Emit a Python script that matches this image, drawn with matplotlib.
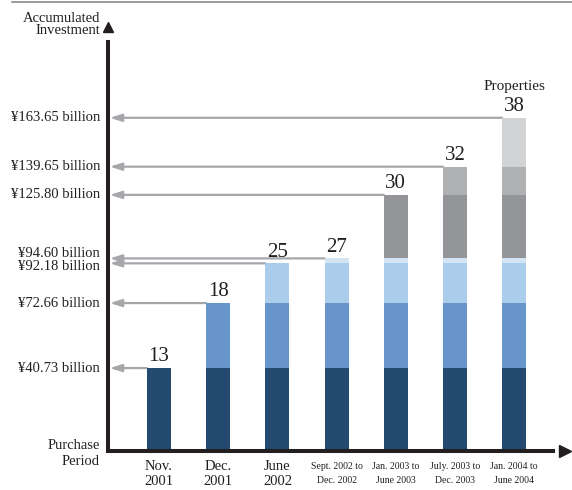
import numpy as np
import matplotlib
matplotlib.use('Agg')
import matplotlib.pyplot as plt
from matplotlib.lines import Line2D

# data
periods = ['Nov.\n2001', 'Dec.\n2001', 'June\n2002', 'Sept. 2002 to\nDec. 2002',
           'Jan. 2003 to\nJune 2003', 'July. 2003 to\nDec. 2003', 'Jan. 2004 to\nJune 2004']
cum_invest = [40.73, 72.66, 92.18, 94.60, 125.80, 139.65, 163.65]   # billion yen
properties = [13, 18, 25, 27, 30, 32, 38]
seg_colors = ['#244b6f', '#6694cb', '#abcdec', '#d4e4f4', '#939598', '#b0b1b3', '#d2d3d5']
value_labels = ['¥40.73 billion', '¥72.66 billion', '¥92.18 billion', '¥94.60 billion',
                '¥125.80 billion', '¥139.65 billion', '¥163.65 billion']

W, H = 572, 490
plt.rcParams['font.family'] = ['Liberation Serif', 'DejaVu Serif']
fig = plt.figure(figsize=(W / 100, H / 100), dpi=100)

# axes placed in pixels: y0 at 451px, left spine at 108px
ax_l, ax_r, ax_b, ax_t = 108, 553, 451, 42
ax = fig.add_axes([ax_l / W, (H - ax_b) / H, (ax_r - ax_l) / W, (ax_b - ax_t) / H])
px_per_bar = 59.2
bar_w = 24 / px_per_bar
x0 = (159 - ax_l) / px_per_bar
ax.set_xlim(-x0, (ax_r - 159) / px_per_bar)
ymax = (ax_b - ax_t) / 2.036
ax.set_ylim(0, ymax)

x = np.arange(len(periods))
bottoms = [0] + cum_invest[:-1]
for i in range(len(periods)):
    for j in range(i + 1):
        ax.bar(x[i], cum_invest[j] - bottoms[j], bottom=bottoms[j], width=bar_w,
               color=seg_colors[j], edgecolor='none', zorder=3)

# gray arrows from each new bar top back to the axis
for i, v in enumerate(cum_invest):
    ax.annotate('', xy=(-x0 + 0.03, v), xytext=(x[i] - bar_w / 2, v),
                arrowprops=dict(arrowstyle='-|>,head_length=0.7,head_width=0.22',
                                color='#a5a7aa', lw=1.6, shrinkA=0, shrinkB=0),
                zorder=2, annotation_clip=False)

# value labels on the left
label_y = list(cum_invest)
label_y[2] -= 1.8
label_y[3] += 2.6
for lab, v in zip(value_labels, label_y):
    ax.text(-0.018, v, lab, transform=ax.get_yaxis_transform(), ha='right', va='center',
            fontsize=10.5, color='#231f20')

# property counts
for i, (v, n) in enumerate(zip(cum_invest, properties)):
    ax.text(x[i], v + 0.8, str(n), ha='center', va='bottom', fontsize=15, color='#231f20')
ax.text(x[-1], cum_invest[-1] + 12.3, 'Properties', ha='center', va='bottom',
        fontsize=11, color='#231f20')

# x tick labels
for i, p in enumerate(periods):
    if i < 3:
        ax.text(x[i], -4.5, p, ha='center', va='top', fontsize=10.5, color='#231f20',
                linespacing=1.2)
    else:
        ax.text(x[i], -5.5, p, ha='center', va='top', fontsize=7, color='#231f20',
                linespacing=1.7)

ax.set_xticks([])
ax.set_yticks([])
for s in ['top', 'right']:
    ax.spines[s].set_visible(False)
for s in ['left', 'bottom']:
    ax.spines[s].set_linewidth(2.9)
    ax.spines[s].set_color('#231f20')
    ax.spines[s].set_zorder(5)

# axis arrowheads
ax.plot([-x0], [(ax_b - 27) / 2.036], marker='^', markersize=7, color='#231f20',
        clip_on=False)
ax.plot([(565 - 159) / px_per_bar], [0], marker='>', markersize=8, color='#231f20',
        clip_on=False)

# axis titles
fig.text(100 / W, 1 - 24.5 / H, 'Accumulated\nInvestment', ha='right', va='center',
         fontsize=10.5, color='#231f20', linespacing=1.0)
fig.text(100 / W, 1 - 453 / H, 'Purchase\nPeriod', ha='right', va='center',
         fontsize=10.5, color='#231f20', linespacing=1.3)

# top rule
fig.add_artist(Line2D([12 / W, 1], [1 - 2 / H, 1 - 2 / H], color='#8a8a8a', lw=1.2))

fig.savefig('out.png', dpi=100)
